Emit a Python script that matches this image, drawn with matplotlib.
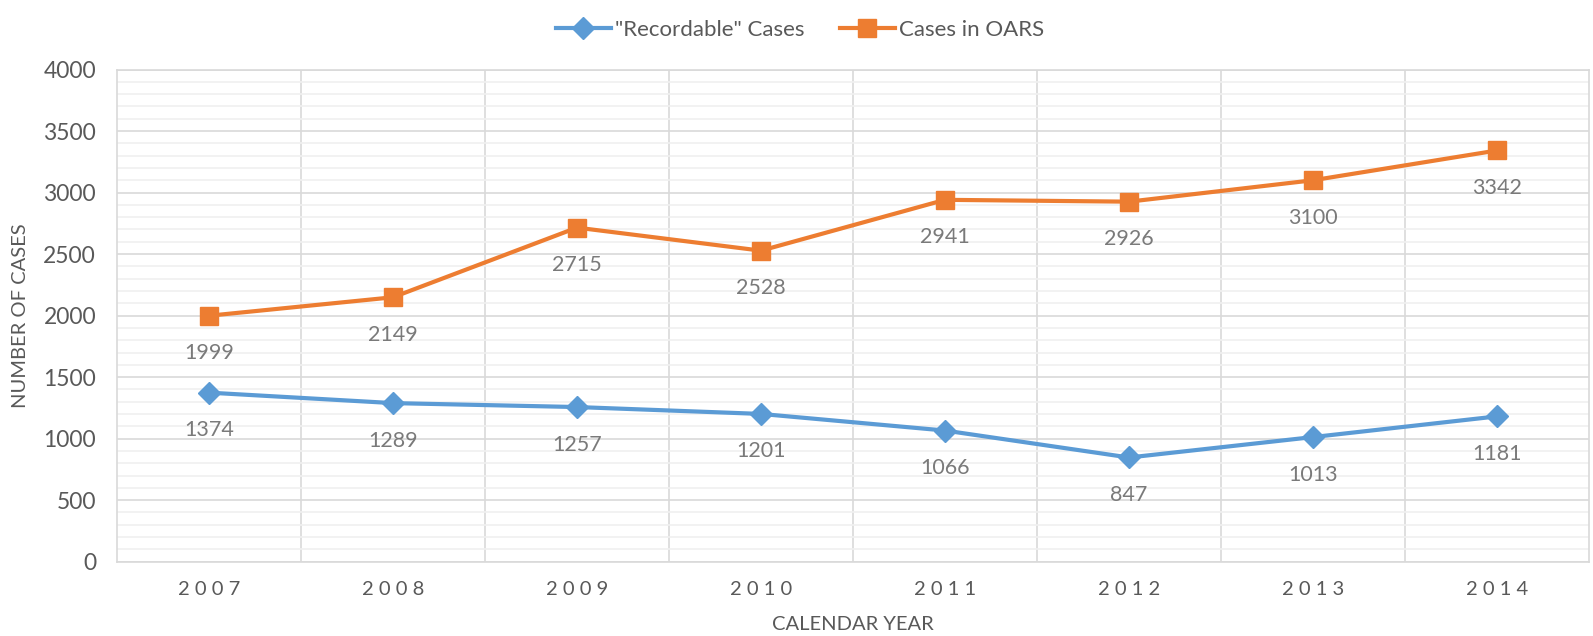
import matplotlib.pyplot as plt
from matplotlib.ticker import MultipleLocator

plt.rcParams['font.family'] = ['Lato', 'DejaVu Sans']

years = ['2007', '2008', '2009', '2010', '2011', '2012', '2013', '2014']
recordable = [1374, 1289, 1257, 1201, 1066, 847, 1013, 1181]
oars = [1999, 2149, 2715, 2528, 2941, 2926, 3100, 3342]

blue = '#5B9BD5'
orange = '#ED7D31'
grid_major = '#d9d9d9'
grid_minor = '#f0f0f0'
text_gray = '#595959'
label_gray = '#7a7a7a'

fig = plt.figure(figsize=(15.93, 6.36), dpi=100)
ax = fig.add_axes([0.0734, 0.1168, 0.9241, 0.7739])

x = list(range(len(years)))

# series
ax.plot(x, recordable, color=blue, lw=3, marker='D', markersize=11,
        label='"Recordable" Cases', zorder=3)
ax.plot(x, oars, color=orange, lw=3, marker='s', markersize=12.5,
        label='Cases in OARS', zorder=3)

# data labels under each point
for xi, v in zip(x, recordable):
    ax.annotate(str(v), (xi, v), xytext=(0, -27), textcoords='offset points',
                ha='center', va='center', fontsize=15.5, color=label_gray)
for xi, v in zip(x, oars):
    ax.annotate(str(v), (xi, v), xytext=(0, -27), textcoords='offset points',
                ha='center', va='center', fontsize=15.5, color=label_gray)

# axes
ax.set_xlim(-0.5, len(years) - 0.5)
ax.set_ylim(0, 4000)
ax.set_xticks(x)
ax.set_xticklabels([' '.join(y) for y in years], fontsize=14.5, color=text_gray)
ax.set_xticks([i + 0.5 for i in x[:-1]], minor=True)
ax.yaxis.set_major_locator(MultipleLocator(500))
ax.yaxis.set_minor_locator(MultipleLocator(100))
ax.tick_params(axis='y', labelsize=16.5, labelcolor=text_gray, length=0, pad=15)
ax.tick_params(axis='x', which='major', length=0, pad=14)
ax.tick_params(which='minor', length=0)

ax.grid(True, axis='y', which='major', color=grid_major, lw=1.2, zorder=0)
ax.grid(True, axis='y', which='minor', color=grid_minor, lw=1.2, zorder=0)
ax.grid(True, axis='x', which='minor', color=grid_major, lw=1.2, zorder=0)
ax.set_axisbelow(True)
for s in ax.spines.values():
    s.set_color(grid_major)
    s.set_linewidth(1.2)

ax.set_xlabel('CALENDAR YEAR', fontsize=14.5, color=text_gray, labelpad=13)
ax.set_ylabel('NUMBER OF CASES', fontsize=14.5, color=text_gray, labelpad=10)

fig.legend(loc='upper center', bbox_to_anchor=(0.502, 1.0), ncol=2, frameon=False,
           fontsize=16, labelcolor=text_gray, handlelength=2.5, columnspacing=1.6,
           handletextpad=0.15)

fig.savefig('out.png', dpi=100)
